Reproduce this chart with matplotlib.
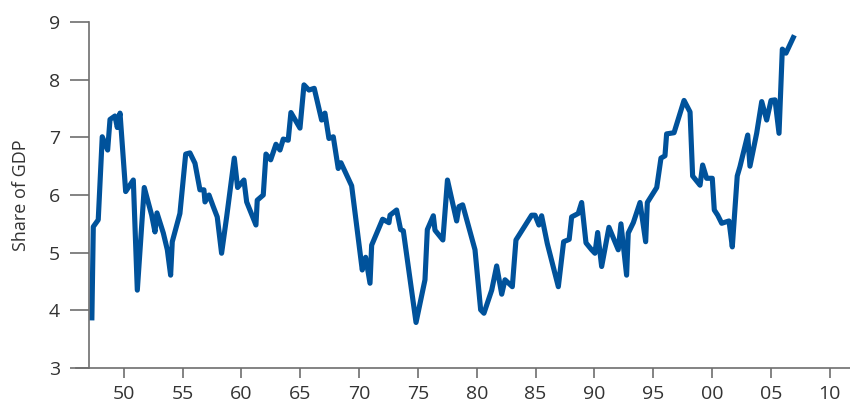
import matplotlib
matplotlib.use("Agg")
import matplotlib.pyplot as plt

# Werte (Jahr, Anteil am BIP)
years = [1947.30, 1947.42, 1947.84, 1948.18, 1948.64, 1948.84, 1949.26, 1949.46, 1949.69,
         1950.17, 1950.82, 1951.16, 1951.75, 1952.38, 1952.66, 1952.83, 1953.37, 1953.71,
         1953.99, 1954.13, 1954.78, 1955.27, 1955.63, 1956.06, 1956.48, 1956.82, 1956.91,
         1957.25, 1957.61, 1957.95, 1958.32, 1958.75, 1959.40, 1959.68, 1960.22, 1960.45,
         1961.24, 1961.35, 1961.86, 1962.09, 1962.49, 1962.94, 1963.28, 1963.56, 1963.98,
         1964.21, 1964.98, 1965.32, 1965.74, 1966.19, 1966.82, 1967.10, 1967.44, 1967.81,
         1968.23, 1968.46, 1969.37, 1970.27, 1970.56, 1970.93, 1971.07, 1972.00, 1972.54,
         1972.63, 1973.19, 1973.53, 1973.76, 1974.84, 1975.60, 1975.80, 1976.31, 1976.45,
         1977.12, 1977.51, 1978.29, 1978.49, 1978.80, 1979.85, 1980.33, 1980.61, 1981.27,
         1981.69, 1982.12, 1982.40, 1983.02, 1983.33, 1983.73, 1984.66, 1984.95, 1985.28,
         1985.51, 1985.99, 1986.93, 1987.38, 1987.85, 1988.06, 1988.62, 1988.91, 1989.28,
         1989.76, 1990.04, 1990.27, 1990.61, 1991.23, 1992.02, 1992.25, 1992.73, 1992.87,
         1993.30, 1993.87, 1994.35, 1994.49, 1995.29, 1995.65, 1995.99, 1996.13, 1996.76,
         1997.61, 1998.12, 1998.34, 1998.97, 1999.19, 1999.53, 2000.01, 2000.18, 2000.47,
         2000.81, 2001.43, 2001.71, 2002.13, 2002.36, 2003.02, 2003.21, 2003.78, 2004.21,
         2004.63, 2005.00, 2005.34, 2005.68, 2005.96, 2006.27, 2006.89]
share = [3.87, 5.45, 5.57, 7.01, 6.78, 7.31, 7.37, 7.17, 7.42,
         6.06, 6.26, 4.35, 6.13, 5.65, 5.36, 5.69, 5.34, 5.05,
         4.61, 5.19, 5.68, 6.71, 6.73, 6.55, 6.09, 6.09, 5.88,
         6.00, 5.80, 5.62, 4.99, 5.62, 6.64, 6.13, 6.26, 5.88,
         5.48, 5.91, 6.00, 6.71, 6.61, 6.88, 6.78, 6.97, 6.95,
         7.43, 7.16, 7.91, 7.82, 7.85, 7.30, 7.42, 6.98, 7.01,
         6.46, 6.56, 6.16, 4.70, 4.92, 4.47, 5.13, 5.58, 5.52,
         5.65, 5.74, 5.40, 5.38, 3.79, 4.53, 5.40, 5.64, 5.39,
         5.22, 6.26, 5.55, 5.80, 5.83, 5.05, 4.01, 3.95, 4.35,
         4.77, 4.28, 4.53, 4.41, 5.22, 5.35, 5.65, 5.65, 5.48,
         5.64, 5.16, 4.41, 5.19, 5.23, 5.62, 5.68, 5.87, 5.17,
         5.05, 4.99, 5.35, 4.76, 5.44, 5.05, 5.50, 4.61, 5.34,
         5.52, 5.87, 5.19, 5.87, 6.13, 6.64, 6.68, 7.06, 7.08,
         7.64, 7.44, 6.33, 6.17, 6.52, 6.29, 6.29, 5.74, 5.65,
         5.51, 5.55, 5.10, 6.33, 6.49, 7.04, 6.50, 7.07, 7.62,
         7.30, 7.64, 7.65, 7.07, 8.53, 8.46, 8.73]

x_ticks = [1950, 1955, 1960, 1965, 1970, 1975, 1980, 1985, 1990, 1995, 2000, 2005, 2010]
x_labels = ["50", "55", "60", "65", "70", "75", "80", "85", "90", "95", "00", "05", "10"]
y_ticks = [3, 4, 5, 6, 7, 8, 9]

plt.rcParams["font.family"] = ["Open Sans", "DejaVu Sans"]

fig = plt.figure(figsize=(8.5, 4.03), dpi=100)
ax = fig.add_axes([0.0894, 0.0868, 0.9106, 0.8586])

ax.plot(years, share, color="#00529b", linewidth=3.7, solid_joinstyle="round")

ax.set_xlim(1945.95, 2011.71)
ax.set_ylim(3, 9)

axis_grey = "#6e6e6e"
for side in ["top", "right"]:
    ax.spines[side].set_visible(False)
ax.spines["left"].set_position(("data", 1947.05))
ax.spines["left"].set_color(axis_grey)
ax.spines["bottom"].set_color(axis_grey)
ax.spines["left"].set_linewidth(1.2)
ax.spines["bottom"].set_linewidth(1.2)

ax.set_xticks(x_ticks)
ax.set_xticklabels(x_labels)
ax.set_yticks(y_ticks)
ax.tick_params(axis="x", length=7, width=1.2, color=axis_grey, pad=5,
               labelsize=14, labelcolor="#333333")
ax.tick_params(axis="y", length=14, width=1.2, color=axis_grey, pad=7,
               labelsize=14, labelcolor="#333333")

ax.set_ylabel("Share of GDP", fontsize=13, color="#333333", labelpad=13)

plt.savefig("out.png", dpi=100)
